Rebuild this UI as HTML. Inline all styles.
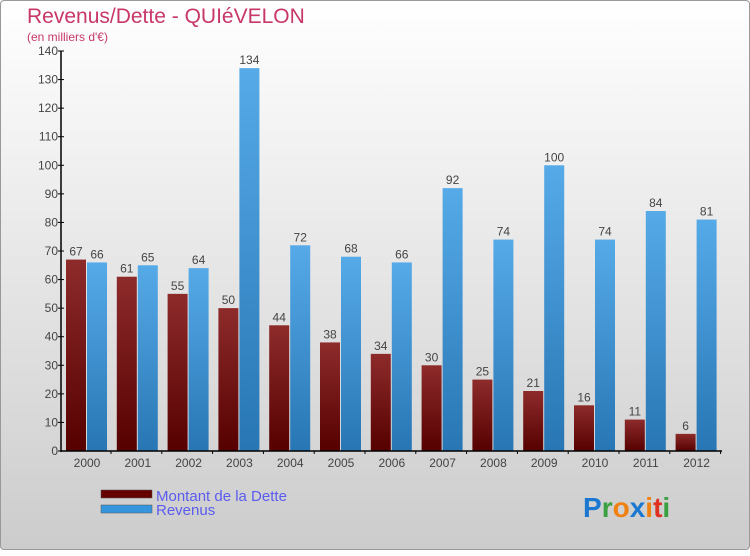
<!DOCTYPE html>
<html><head><meta charset="utf-8">
<style>
html,body{margin:0;padding:0;}
body{width:750px;height:550px;overflow:hidden;font-family:"Liberation Sans",sans-serif;}
#wrap{position:absolute;left:0;top:0;width:748px;height:548px;border:1px solid #999;border-radius:4px;background:linear-gradient(#ffffff,#cccccc);}
</style></head><body>
<div id="wrap">
<svg id="chart" width="750" height="550">
<defs>
<linearGradient id="gd" x1="0" y1="0" x2="0" y2="1"><stop offset="0" stop-color="#8e2b2b"/><stop offset="1" stop-color="#560000"/></linearGradient>
<linearGradient id="gr" x1="0" y1="0" x2="0" y2="1"><stop offset="0" stop-color="#56aae8"/><stop offset="1" stop-color="#2876b4"/></linearGradient>
<linearGradient id="ldg" x1="0" y1="0" x2="0" y2="1"><stop offset="0" stop-color="#6a0000"/><stop offset="1" stop-color="#550000"/></linearGradient>
</defs>
<text x="26" y="22" font-size="21" fill="#c8376a">Revenus/Dette - QUIéVELON</text>
<text x="26" y="40" font-size="12" fill="#c8376a">(en milliers d'€)</text>
<g id="grid"></g>
<g id="bars"></g>
<g id="axes"></g>
<g>
<rect x="100" y="489" width="51" height="8" fill="#650000" stroke="#555" stroke-width="0.5"/>
<text x="155" y="500" font-size="15" fill="#5b5bef">Montant de la Dette</text>
<rect x="100" y="504" width="51" height="8" fill="#3596de" stroke="#555" stroke-width="0.5"/>
<text x="155" y="514" font-size="15" fill="#5b5bef">Revenus</text>
</g>
<g font-size="28" font-weight="bold" font-family="Liberation Sans, sans-serif">
<text x="582" y="516"><tspan fill="#1a78d0">P</tspan><tspan fill="#3aa040">r</tspan><tspan fill="#f08010">o</tspan><tspan fill="#1a78d0">x</tspan><tspan fill="#f08010">i</tspan><tspan fill="#e03020">t</tspan><tspan fill="#3aa040">i</tspan></text>
</g>
</svg>
</div>
<script>
const years=["2000","2001","2002","2003","2004","2005","2006","2007","2008","2009","2010","2011","2012"];
const dette=[67,61,55,50,44,38,34,30,25,21,16,11,6];
const revenus=[66,65,64,134,72,68,66,92,74,100,74,84,81];
const ticks=[0,10,20,30,40,50,60,70,80,90,100,110,120,130,140];
const NS="http://www.w3.org/2000/svg";
const y0=450,yTop=50,maxV=140;
function yS(v){return y0-(v/maxV)*(y0-yTop);}
function xS(i){return 85+i*50.8;}
function mk(tag,attrs,parent){const e=document.createElementNS(NS,tag);for(const k in attrs)e.setAttribute(k,attrs[k]);parent.appendChild(e);return e;}
const bars=document.getElementById('bars'),axes=document.getElementById('axes');
years.forEach((yr,i)=>{
  const cx=xS(i);
  const d=mk('rect',{x:cx-20,y:yS(dette[i]),width:20,height:y0-yS(dette[i]),fill:'url(#gd)'},bars);
  
  
  const r=mk('rect',{x:cx+1,y:yS(revenus[i]),width:20,height:y0-yS(revenus[i]),fill:'url(#gr)'},bars);
  
  
  const t1=mk('text',{x:cx-10,y:yS(dette[i])-4,'font-size':12,fill:'#444','text-anchor':'middle'},bars);
  t1.textContent=dette[i];
  
  
  const t2=mk('text',{x:cx+11,y:yS(revenus[i])-4,'font-size':12,fill:'#444','text-anchor':'middle'},bars);
  t2.textContent=revenus[i];
  
  
  const xl=mk('text',{x:cx+1,y:466,'font-size':12,fill:'#444','text-anchor':'middle'},axes);
  xl.textContent=yr;
  
  
  mk('line',{x1:cx+25,y1:y0,x2:cx+25,y2:y0+3,stroke:'#000'},axes);
});
ticks.forEach(v=>{
  const y=yS(v);
  mk('line',{x1:57,y1:y,x2:63,y2:y,stroke:'#000'},axes);
  const t=mk('text',{x:57,y:y+4,'font-size':12,fill:'#444','text-anchor':'end'},axes);
  t.textContent=v;
  
  
});
const ya=mk('line',{x1:60,y1:yTop,x2:60,y2:y0+1,stroke:'#000','stroke-width':1.5},axes);


const xa=mk('line',{x1:60,y1:y0,x2:721,y2:y0,stroke:'#000','stroke-width':1.5},axes);


</script>
</body></html>
